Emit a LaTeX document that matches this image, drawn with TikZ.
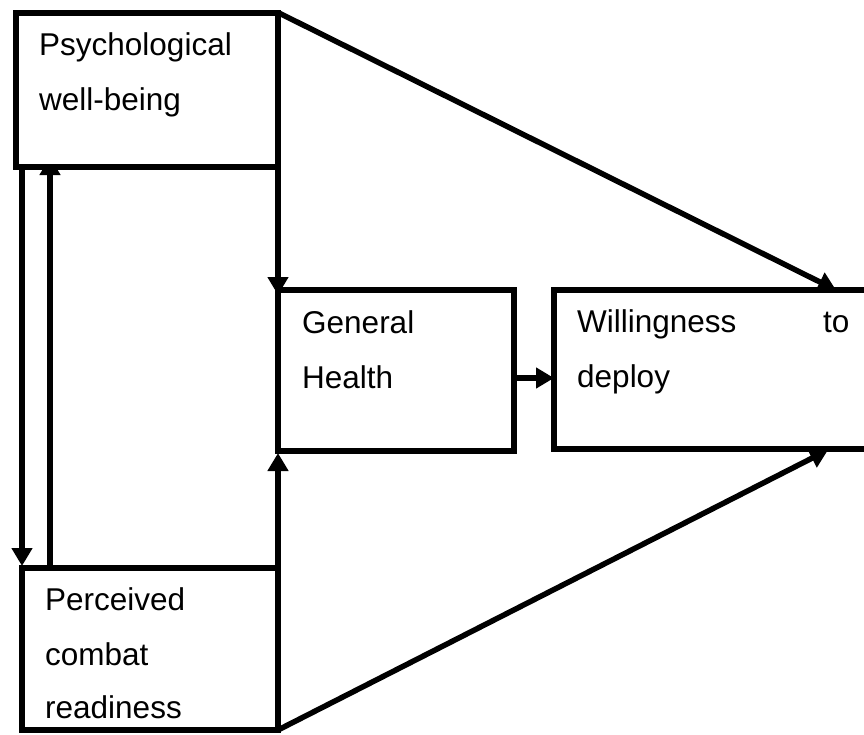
\documentclass[tikz,border=0pt]{standalone}
\usepackage{fontspec}
\setmainfont{Liberation Sans}
\usetikzlibrary{arrows.meta,calc}
\begin{document}
\begin{tikzpicture}[x=1pt,y=-1pt,
  box/.style={draw,fill=white,line width=6pt,rectangle,inner sep=0pt,outer sep=0pt},
  lbl/.style={anchor=base west,inner sep=0pt,font=\fontsize{31.5}{37}\selectfont},
  arr/.style={line width=5.5pt,-{Triangle[length=18pt,width=20pt]}}]
\useasboundingbox (0,0) rectangle (864,734);
\clip (0,0) rectangle (864,734);
% box positions (nodes, empty)
\path (147,89.75) node[box,draw=none,fill=none,minimum width=262pt,minimum height=154.5pt] (psych) {};
\path (150,649) node[box,draw=none,fill=none,minimum width=256pt,minimum height=162pt] (perc) {};
\path (396,370.5) node[box,draw=none,fill=none,minimum width=236pt,minimum height=161pt] (gh) {};
\path (719.5,369.5) node[box,draw=none,fill=none,minimum width=331pt,minimum height=159pt] (will) {};
% connectors
\draw[arr] (perc.north west |- psych.south) -- ($(perc.north west)+(0,-2)$);
\draw[arr] ($(perc.north west)+(28,0)$) -- ($(perc.north west |- psych.south)+(28,-10)$);
\draw[arr] (psych.south east) -- ($(gh.north west)+(0,5)$);
\draw[arr] (perc.north east) -- ($(gh.south west)+(0,2)$);
\coordinate (ghout) at ($(gh.east)+(0,7.5)$);
\draw[arr] (ghout) -- (will.west |- ghout);
\draw[arr] (psych.north east) -- ($(will.north west)+(282,0)$);
\draw[arr] (perc.south east) -- ($(will.south west)+(274,1)$);
% boxes on top
\node[box,minimum width=262pt,minimum height=154.5pt] at (psych) {};
\node[box,minimum width=256pt,minimum height=162pt] at (perc) {};
\node[box,minimum width=236pt,minimum height=161pt] at (gh) {};
\node[box,minimum width=331pt,minimum height=159pt] at (will) {};
% texts
\node[lbl] (t1) at (39,55) {Psychological};
\node[lbl] (t2) at (39,110) {well-being};
\node[lbl] (t3) at (45,610) {Perceived};
\node[lbl] (t4) at (45,665) {combat};
\node[lbl] (t5) at (45,718) {readiness};
\node[lbl] (t6) at (302,333) {General};
\node[lbl] (t7) at (302,388) {Health};
\node[lbl] (t8) at (577,332) {Willingness};
\node[lbl] (t9) at (823,332) {to};
\node[lbl] (t10) at (577,387) {deploy};
\end{tikzpicture}
\end{document}
